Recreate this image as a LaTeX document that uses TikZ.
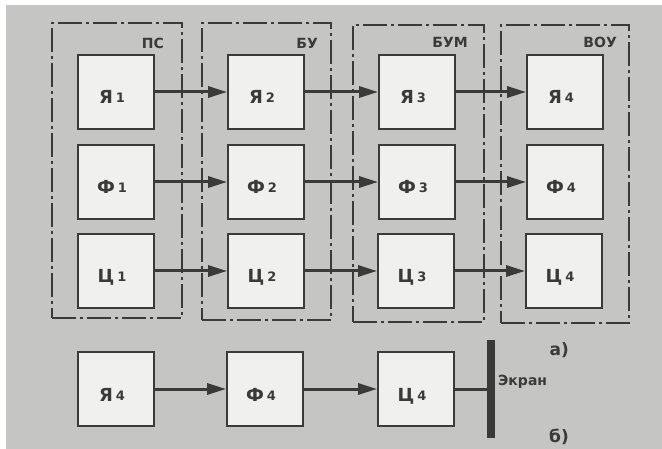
\documentclass[tikz,border=0pt]{standalone}
\usepackage{fontspec}
\setmainfont{DejaVu Sans}
\usetikzlibrary{arrows.meta}

\definecolor{scangray}{RGB}{197,197,195}
\definecolor{boxfill}{RGB}{240,240,238}
\definecolor{ink}{RGB}{58,58,58}

% label of a block: letter with a small index
\newcommand{\blk}[2]{#1\,\raisebox{1pt}{\fontsize{13}{13}\selectfont #2}\hspace*{8pt}}

\begin{document}
\begin{tikzpicture}[x=1pt,y=-1pt,
    block/.style={draw=ink, line width=1.8pt, fill=boxfill, minimum width=76pt,
      minimum height=74pt, inner sep=0pt, text=ink, text height=24pt, text depth=0pt,
      font=\bfseries\fontsize{18}{18}\selectfont},
    group/.style={draw=ink, line width=1.8pt,
      dash pattern=on 24pt off 4pt on 3pt off 4pt, inner sep=0pt},
    grplabel/.style={anchor=east, text=ink, inner sep=0pt,
      font=\bfseries\fontsize{14}{14}\selectfont},
    caption/.style={anchor=east, text=ink, inner sep=0pt,
      font=\bfseries\fontsize{17}{17}\selectfont},
    flow/.style={draw=ink, line width=3pt, -{Triangle[length=19pt,width=11pt]}}]

      \useasboundingbox (0,0) rectangle (662,449);

      % Paper
      \fill[white] (0,0) rectangle (662,449);
      \fill[scangray] (6,5) rectangle (662,449);

      % Groups
      \node[group, minimum width=130pt, minimum height=295pt] (ps) at (117,170.5) {};
      \node[group, minimum width=129pt, minimum height=297pt] (bu) at (266.5,171.5) {};
      \node[group, minimum width=131pt, minimum height=297pt] (bum) at (418.5,173.5) {};
      \node[group, minimum width=128pt, minimum height=298pt] (vou) at (565,174) {};

      \node[grplabel] (pslabel) at (164,43) {ПС};
      \node[grplabel] (bulabel) at (318,43) {БУ};
      \node[grplabel] (bumlabel) at (468,42) {БУМ};
      \node[grplabel] (voulabel) at (617,42) {ВОУ};

      % Blocks (a)
      \node[block] (ya1) at (116,92) {\blk{Я}{1}};
      \node[block] (ph1) at (116,182) {\blk{Ф}{1}};
      \node[block] (ts1) at (116,271) {\blk{Ц}{1}};

      \node[block] (ya2) at (266,92) {\blk{Я}{2}};
      \node[block] (ph2) at (266,182) {\blk{Ф}{2}};
      \node[block] (ts2) at (266,271) {\blk{Ц}{2}};

      \node[block] (ya3) at (417,92) {\blk{Я}{3}};
      \node[block] (ph3) at (417,182) {\blk{Ф}{3}};
      \node[block] (ts3) at (416,271) {\blk{Ц}{3}};

      \node[block] (ya4) at (565,92) {\blk{Я}{4}};
      \node[block] (ph4) at (565,182) {\blk{Ф}{4}};
      \node[block] (ts4) at (564,271) {\blk{Ц}{4}};

      % Arrows (a)
      \draw[flow] (ya1) -- (ya2);
      \draw[flow] (ya2) -- (ya3);
      \draw[flow] (ya3) -- (ya4);
      \draw[flow] (ph1) -- (ph2);
      \draw[flow] (ph2) -- (ph3);
      \draw[flow] (ph3) -- (ph4);
      \draw[flow] (ts1) -- (ts2);
      \draw[flow] (ts2) -- (ts3);
      \draw[flow] (ts3) -- (ts4);

      \node[caption] (capa) at (569,350) {а)};

      % Chain (b)
      \node[block] (yab) at (116,389) {\blk{Я}{4}};
      \node[block] (phb) at (265,389) {\blk{Ф}{4}};
      \node[block] (tsb) at (416,389) {\blk{Ц}{4}};

      \node[fill=ink, minimum width=8pt, minimum height=98pt, inner sep=0pt] (screen) at (491,389) {};
      \node[grplabel, anchor=west] (screenlabel) at (498,382) {Экран};

      \draw[flow] (yab) -- (phb);
      \draw[flow] (phb) -- (tsb);
      \draw[draw=ink, line width=3pt] (tsb) -- (tsb -| screen.west);

      \node[caption] (capb) at (569,437) {б)};

\end{tikzpicture}
\end{document}
